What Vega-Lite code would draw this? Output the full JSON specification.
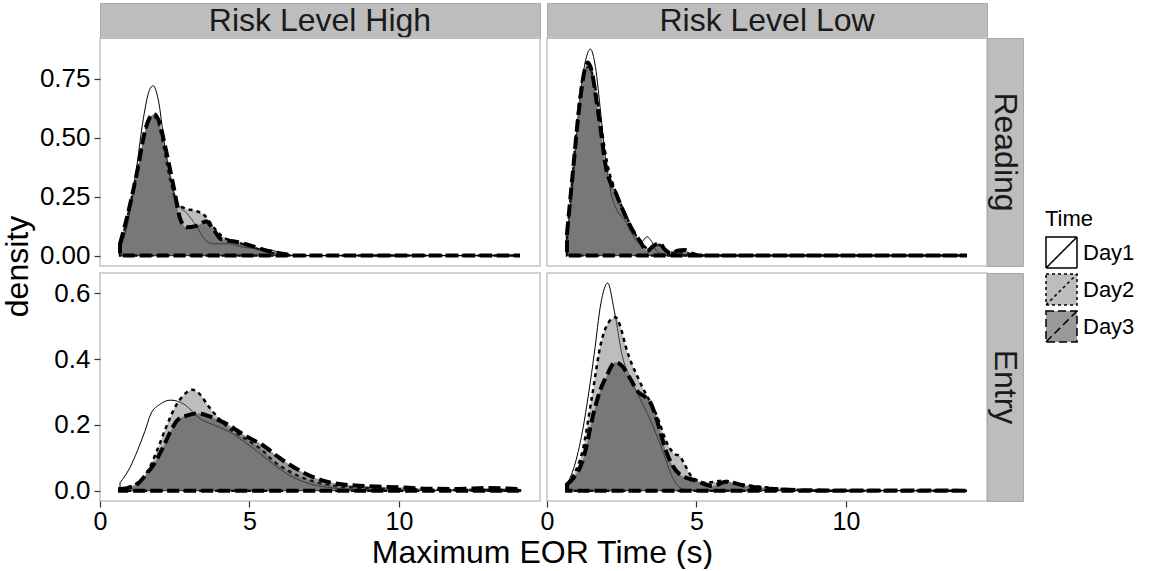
{
  "$schema": "https://vega.github.io/schema/vega-lite/v6.json",
  "background": "white",
  "padding": {"left": 0, "top": 0, "right": 5, "bottom": 0},
  "columns": 4,
  "spacing": 0,
  "align": "each",
  "bounds": "flush",
  "resolve": {"scale": {"x": "independent", "y": "independent", "fill": "shared"}, "legend": {"fill": "shared"}},
  "datasets": {
    "curves": [
      {"risk":"High","task":"Reading","day":"Day1","time":0.67,"density":0.03},
      {"risk":"High","task":"Reading","day":"Day1","time":0.9,"density":0.12},
      {"risk":"High","task":"Reading","day":"Day1","time":1.2,"density":0.35},
      {"risk":"High","task":"Reading","day":"Day1","time":1.45,"density":0.58},
      {"risk":"High","task":"Reading","day":"Day1","time":1.65,"density":0.70},
      {"risk":"High","task":"Reading","day":"Day1","time":1.78,"density":0.72},
      {"risk":"High","task":"Reading","day":"Day1","time":1.95,"density":0.66},
      {"risk":"High","task":"Reading","day":"Day1","time":2.15,"density":0.48},
      {"risk":"High","task":"Reading","day":"Day1","time":2.4,"density":0.30},
      {"risk":"High","task":"Reading","day":"Day1","time":2.65,"density":0.21},
      {"risk":"High","task":"Reading","day":"Day1","time":2.9,"density":0.18},
      {"risk":"High","task":"Reading","day":"Day1","time":3.2,"density":0.13},
      {"risk":"High","task":"Reading","day":"Day1","time":3.5,"density":0.07},
      {"risk":"High","task":"Reading","day":"Day1","time":3.8,"density":0.05},
      {"risk":"High","task":"Reading","day":"Day1","time":4.3,"density":0.05},
      {"risk":"High","task":"Reading","day":"Day1","time":4.8,"density":0.035},
      {"risk":"High","task":"Reading","day":"Day1","time":5.3,"density":0.03},
      {"risk":"High","task":"Reading","day":"Day1","time":5.7,"density":0.025},
      {"risk":"High","task":"Reading","day":"Day1","time":6.1,"density":0.008},
      {"risk":"High","task":"Reading","day":"Day1","time":6.6,"density":0},
      {"risk":"High","task":"Reading","day":"Day1","time":14.05,"density":0},

      {"risk":"High","task":"Reading","day":"Day2","time":0.67,"density":0.04},
      {"risk":"High","task":"Reading","day":"Day2","time":0.9,"density":0.15},
      {"risk":"High","task":"Reading","day":"Day2","time":1.2,"density":0.33},
      {"risk":"High","task":"Reading","day":"Day2","time":1.5,"density":0.52},
      {"risk":"High","task":"Reading","day":"Day2","time":1.75,"density":0.59},
      {"risk":"High","task":"Reading","day":"Day2","time":1.9,"density":0.58},
      {"risk":"High","task":"Reading","day":"Day2","time":2.1,"density":0.48},
      {"risk":"High","task":"Reading","day":"Day2","time":2.35,"density":0.32},
      {"risk":"High","task":"Reading","day":"Day2","time":2.6,"density":0.22},
      {"risk":"High","task":"Reading","day":"Day2","time":2.85,"density":0.2},
      {"risk":"High","task":"Reading","day":"Day2","time":3.2,"density":0.19},
      {"risk":"High","task":"Reading","day":"Day2","time":3.5,"density":0.17},
      {"risk":"High","task":"Reading","day":"Day2","time":3.8,"density":0.12},
      {"risk":"High","task":"Reading","day":"Day2","time":4.1,"density":0.08},
      {"risk":"High","task":"Reading","day":"Day2","time":4.5,"density":0.06},
      {"risk":"High","task":"Reading","day":"Day2","time":5.0,"density":0.04},
      {"risk":"High","task":"Reading","day":"Day2","time":5.5,"density":0.02},
      {"risk":"High","task":"Reading","day":"Day2","time":6.0,"density":0.007},
      {"risk":"High","task":"Reading","day":"Day2","time":6.5,"density":0},
      {"risk":"High","task":"Reading","day":"Day2","time":14.05,"density":0},

      {"risk":"High","task":"Reading","day":"Day3","time":0.67,"density":0.05},
      {"risk":"High","task":"Reading","day":"Day3","time":0.9,"density":0.16},
      {"risk":"High","task":"Reading","day":"Day3","time":1.25,"density":0.36},
      {"risk":"High","task":"Reading","day":"Day3","time":1.53,"density":0.54},
      {"risk":"High","task":"Reading","day":"Day3","time":1.8,"density":0.60},
      {"risk":"High","task":"Reading","day":"Day3","time":2.0,"density":0.56},
      {"risk":"High","task":"Reading","day":"Day3","time":2.15,"density":0.48},
      {"risk":"High","task":"Reading","day":"Day3","time":2.45,"density":0.30},
      {"risk":"High","task":"Reading","day":"Day3","time":2.7,"density":0.15},
      {"risk":"High","task":"Reading","day":"Day3","time":2.9,"density":0.12},
      {"risk":"High","task":"Reading","day":"Day3","time":3.2,"density":0.125},
      {"risk":"High","task":"Reading","day":"Day3","time":3.55,"density":0.145},
      {"risk":"High","task":"Reading","day":"Day3","time":3.8,"density":0.11},
      {"risk":"High","task":"Reading","day":"Day3","time":4.05,"density":0.07},
      {"risk":"High","task":"Reading","day":"Day3","time":4.5,"density":0.06},
      {"risk":"High","task":"Reading","day":"Day3","time":5.1,"density":0.04},
      {"risk":"High","task":"Reading","day":"Day3","time":5.6,"density":0.02},
      {"risk":"High","task":"Reading","day":"Day3","time":6.1,"density":0.008},
      {"risk":"High","task":"Reading","day":"Day3","time":6.6,"density":0},
      {"risk":"High","task":"Reading","day":"Day3","time":14.05,"density":0},

      {"risk":"Low","task":"Reading","day":"Day1","time":0.67,"density":0.08},
      {"risk":"Low","task":"Reading","day":"Day1","time":0.85,"density":0.30},
      {"risk":"Low","task":"Reading","day":"Day1","time":1.05,"density":0.60},
      {"risk":"Low","task":"Reading","day":"Day1","time":1.25,"density":0.80},
      {"risk":"Low","task":"Reading","day":"Day1","time":1.45,"density":0.875},
      {"risk":"Low","task":"Reading","day":"Day1","time":1.62,"density":0.80},
      {"risk":"Low","task":"Reading","day":"Day1","time":1.8,"density":0.60},
      {"risk":"Low","task":"Reading","day":"Day1","time":1.97,"density":0.40},
      {"risk":"Low","task":"Reading","day":"Day1","time":2.15,"density":0.26},
      {"risk":"Low","task":"Reading","day":"Day1","time":2.35,"density":0.19},
      {"risk":"Low","task":"Reading","day":"Day1","time":2.6,"density":0.15},
      {"risk":"Low","task":"Reading","day":"Day1","time":2.85,"density":0.09},
      {"risk":"Low","task":"Reading","day":"Day1","time":3.1,"density":0.05},
      {"risk":"Low","task":"Reading","day":"Day1","time":3.35,"density":0.08},
      {"risk":"Low","task":"Reading","day":"Day1","time":3.5,"density":0.06},
      {"risk":"Low","task":"Reading","day":"Day1","time":3.7,"density":0.015},
      {"risk":"Low","task":"Reading","day":"Day1","time":4.0,"density":0.005},
      {"risk":"Low","task":"Reading","day":"Day1","time":4.5,"density":0.003},
      {"risk":"Low","task":"Reading","day":"Day1","time":5.0,"density":0},
      {"risk":"Low","task":"Reading","day":"Day1","time":14.05,"density":0},

      {"risk":"Low","task":"Reading","day":"Day2","time":0.67,"density":0.09},
      {"risk":"Low","task":"Reading","day":"Day2","time":0.85,"density":0.32},
      {"risk":"Low","task":"Reading","day":"Day2","time":1.05,"density":0.62},
      {"risk":"Low","task":"Reading","day":"Day2","time":1.25,"density":0.78},
      {"risk":"Low","task":"Reading","day":"Day2","time":1.4,"density":0.80},
      {"risk":"Low","task":"Reading","day":"Day2","time":1.6,"density":0.72},
      {"risk":"Low","task":"Reading","day":"Day2","time":1.8,"density":0.56},
      {"risk":"Low","task":"Reading","day":"Day2","time":2.0,"density":0.40},
      {"risk":"Low","task":"Reading","day":"Day2","time":2.3,"density":0.27},
      {"risk":"Low","task":"Reading","day":"Day2","time":2.64,"density":0.17},
      {"risk":"Low","task":"Reading","day":"Day2","time":3.0,"density":0.08},
      {"risk":"Low","task":"Reading","day":"Day2","time":3.4,"density":0.03},
      {"risk":"Low","task":"Reading","day":"Day2","time":3.75,"density":0.045},
      {"risk":"Low","task":"Reading","day":"Day2","time":4.1,"density":0.012},
      {"risk":"Low","task":"Reading","day":"Day2","time":4.5,"density":0.015},
      {"risk":"Low","task":"Reading","day":"Day2","time":4.9,"density":0.003},
      {"risk":"Low","task":"Reading","day":"Day2","time":5.3,"density":0},
      {"risk":"Low","task":"Reading","day":"Day2","time":14.05,"density":0},

      {"risk":"Low","task":"Reading","day":"Day3","time":0.67,"density":0.094},
      {"risk":"Low","task":"Reading","day":"Day3","time":0.86,"density":0.347},
      {"risk":"Low","task":"Reading","day":"Day3","time":1.08,"density":0.63},
      {"risk":"Low","task":"Reading","day":"Day3","time":1.25,"density":0.78},
      {"risk":"Low","task":"Reading","day":"Day3","time":1.36,"density":0.818},
      {"risk":"Low","task":"Reading","day":"Day3","time":1.5,"density":0.78},
      {"risk":"Low","task":"Reading","day":"Day3","time":1.64,"density":0.67},
      {"risk":"Low","task":"Reading","day":"Day3","time":1.8,"density":0.53},
      {"risk":"Low","task":"Reading","day":"Day3","time":1.97,"density":0.375},
      {"risk":"Low","task":"Reading","day":"Day3","time":2.31,"density":0.263},
      {"risk":"Low","task":"Reading","day":"Day3","time":2.64,"density":0.164},
      {"risk":"Low","task":"Reading","day":"Day3","time":2.9,"density":0.1},
      {"risk":"Low","task":"Reading","day":"Day3","time":3.09,"density":0.066},
      {"risk":"Low","task":"Reading","day":"Day3","time":3.35,"density":0.02},
      {"risk":"Low","task":"Reading","day":"Day3","time":3.55,"density":0.04},
      {"risk":"Low","task":"Reading","day":"Day3","time":3.76,"density":0.052},
      {"risk":"Low","task":"Reading","day":"Day3","time":3.95,"density":0.025},
      {"risk":"Low","task":"Reading","day":"Day3","time":4.15,"density":0.01},
      {"risk":"Low","task":"Reading","day":"Day3","time":4.4,"density":0.022},
      {"risk":"Low","task":"Reading","day":"Day3","time":4.6,"density":0.024},
      {"risk":"Low","task":"Reading","day":"Day3","time":4.85,"density":0.008},
      {"risk":"Low","task":"Reading","day":"Day3","time":5.1,"density":0},
      {"risk":"Low","task":"Reading","day":"Day3","time":14.05,"density":0},

      {"risk":"High","task":"Entry","day":"Day1","time":0.67,"density":0.024},
      {"risk":"High","task":"Entry","day":"Day1","time":1.0,"density":0.07},
      {"risk":"High","task":"Entry","day":"Day1","time":1.25,"density":0.121},
      {"risk":"High","task":"Entry","day":"Day1","time":1.5,"density":0.18},
      {"risk":"High","task":"Entry","day":"Day1","time":1.7,"density":0.233},
      {"risk":"High","task":"Entry","day":"Day1","time":2.0,"density":0.262},
      {"risk":"High","task":"Entry","day":"Day1","time":2.37,"density":0.275},
      {"risk":"High","task":"Entry","day":"Day1","time":2.81,"density":0.263},
      {"risk":"High","task":"Entry","day":"Day1","time":3.37,"density":0.217},
      {"risk":"High","task":"Entry","day":"Day1","time":3.8,"density":0.2},
      {"risk":"High","task":"Entry","day":"Day1","time":4.26,"density":0.182},
      {"risk":"High","task":"Entry","day":"Day1","time":4.8,"density":0.15},
      {"risk":"High","task":"Entry","day":"Day1","time":5.38,"density":0.111},
      {"risk":"High","task":"Entry","day":"Day1","time":5.8,"density":0.08},
      {"risk":"High","task":"Entry","day":"Day1","time":6.27,"density":0.05},
      {"risk":"High","task":"Entry","day":"Day1","time":7.05,"density":0.02},
      {"risk":"High","task":"Entry","day":"Day1","time":7.8,"density":0.008},
      {"risk":"High","task":"Entry","day":"Day1","time":8.5,"density":0.003},
      {"risk":"High","task":"Entry","day":"Day1","time":9.5,"density":0.001},
      {"risk":"High","task":"Entry","day":"Day1","time":14.05,"density":0},

      {"risk":"High","task":"Entry","day":"Day2","time":0.67,"density":0.005},
      {"risk":"High","task":"Entry","day":"Day2","time":1.0,"density":0.012},
      {"risk":"High","task":"Entry","day":"Day2","time":1.25,"density":0.024},
      {"risk":"High","task":"Entry","day":"Day2","time":1.6,"density":0.06},
      {"risk":"High","task":"Entry","day":"Day2","time":1.9,"density":0.12},
      {"risk":"High","task":"Entry","day":"Day2","time":2.2,"density":0.19},
      {"risk":"High","task":"Entry","day":"Day2","time":2.55,"density":0.26},
      {"risk":"High","task":"Entry","day":"Day2","time":2.8,"density":0.29},
      {"risk":"High","task":"Entry","day":"Day2","time":3.09,"density":0.307},
      {"risk":"High","task":"Entry","day":"Day2","time":3.37,"density":0.29},
      {"risk":"High","task":"Entry","day":"Day2","time":3.6,"density":0.26},
      {"risk":"High","task":"Entry","day":"Day2","time":3.95,"density":0.222},
      {"risk":"High","task":"Entry","day":"Day2","time":4.3,"density":0.19},
      {"risk":"High","task":"Entry","day":"Day2","time":4.6,"density":0.172},
      {"risk":"High","task":"Entry","day":"Day2","time":5.0,"density":0.15},
      {"risk":"High","task":"Entry","day":"Day2","time":5.4,"density":0.125},
      {"risk":"High","task":"Entry","day":"Day2","time":5.8,"density":0.09},
      {"risk":"High","task":"Entry","day":"Day2","time":6.3,"density":0.06},
      {"risk":"High","task":"Entry","day":"Day2","time":6.9,"density":0.035},
      {"risk":"High","task":"Entry","day":"Day2","time":7.8,"density":0.015},
      {"risk":"High","task":"Entry","day":"Day2","time":8.8,"density":0.008},
      {"risk":"High","task":"Entry","day":"Day2","time":10.0,"density":0.004},
      {"risk":"High","task":"Entry","day":"Day2","time":12.0,"density":0.002},
      {"risk":"High","task":"Entry","day":"Day2","time":14.05,"density":0.001},

      {"risk":"High","task":"Entry","day":"Day3","time":0.67,"density":0.005},
      {"risk":"High","task":"Entry","day":"Day3","time":1.0,"density":0.01},
      {"risk":"High","task":"Entry","day":"Day3","time":1.25,"density":0.02},
      {"risk":"High","task":"Entry","day":"Day3","time":1.55,"density":0.05},
      {"risk":"High","task":"Entry","day":"Day3","time":1.8,"density":0.08},
      {"risk":"High","task":"Entry","day":"Day3","time":2.1,"density":0.13},
      {"risk":"High","task":"Entry","day":"Day3","time":2.37,"density":0.182},
      {"risk":"High","task":"Entry","day":"Day3","time":2.6,"density":0.215},
      {"risk":"High","task":"Entry","day":"Day3","time":2.9,"density":0.228},
      {"risk":"High","task":"Entry","day":"Day3","time":3.26,"density":0.235},
      {"risk":"High","task":"Entry","day":"Day3","time":3.6,"density":0.228},
      {"risk":"High","task":"Entry","day":"Day3","time":3.9,"density":0.217},
      {"risk":"High","task":"Entry","day":"Day3","time":4.3,"density":0.2},
      {"risk":"High","task":"Entry","day":"Day3","time":4.6,"density":0.182},
      {"risk":"High","task":"Entry","day":"Day3","time":5.0,"density":0.16},
      {"risk":"High","task":"Entry","day":"Day3","time":5.4,"density":0.141},
      {"risk":"High","task":"Entry","day":"Day3","time":6.0,"density":0.1},
      {"risk":"High","task":"Entry","day":"Day3","time":6.6,"density":0.065},
      {"risk":"High","task":"Entry","day":"Day3","time":7.3,"density":0.035},
      {"risk":"High","task":"Entry","day":"Day3","time":8.0,"density":0.02},
      {"risk":"High","task":"Entry","day":"Day3","time":8.9,"density":0.014},
      {"risk":"High","task":"Entry","day":"Day3","time":10.0,"density":0.01},
      {"risk":"High","task":"Entry","day":"Day3","time":11.0,"density":0.006},
      {"risk":"High","task":"Entry","day":"Day3","time":12.0,"density":0.005},
      {"risk":"High","task":"Entry","day":"Day3","time":13.0,"density":0.008},
      {"risk":"High","task":"Entry","day":"Day3","time":13.5,"density":0.007},
      {"risk":"High","task":"Entry","day":"Day3","time":14.05,"density":0.005},

      {"risk":"Low","task":"Entry","day":"Day1","time":0.67,"density":0.019},
      {"risk":"Low","task":"Entry","day":"Day1","time":0.9,"density":0.07},
      {"risk":"Low","task":"Entry","day":"Day1","time":1.19,"density":0.182},
      {"risk":"Low","task":"Entry","day":"Day1","time":1.4,"density":0.3},
      {"risk":"Low","task":"Entry","day":"Day1","time":1.58,"density":0.415},
      {"risk":"Low","task":"Entry","day":"Day1","time":1.8,"density":0.568},
      {"risk":"Low","task":"Entry","day":"Day1","time":2.03,"density":0.631},
      {"risk":"Low","task":"Entry","day":"Day1","time":2.25,"density":0.547},
      {"risk":"Low","task":"Entry","day":"Day1","time":2.53,"density":0.405},
      {"risk":"Low","task":"Entry","day":"Day1","time":2.75,"density":0.35},
      {"risk":"Low","task":"Entry","day":"Day1","time":2.98,"density":0.304},
      {"risk":"Low","task":"Entry","day":"Day1","time":3.42,"density":0.222},
      {"risk":"Low","task":"Entry","day":"Day1","time":3.87,"density":0.121},
      {"risk":"Low","task":"Entry","day":"Day1","time":4.2,"density":0.04},
      {"risk":"Low","task":"Entry","day":"Day1","time":4.54,"density":0.005},
      {"risk":"Low","task":"Entry","day":"Day1","time":5.0,"density":0.001},
      {"risk":"Low","task":"Entry","day":"Day1","time":14.05,"density":0},

      {"risk":"Low","task":"Entry","day":"Day2","time":0.67,"density":0.019},
      {"risk":"Low","task":"Entry","day":"Day2","time":0.9,"density":0.05},
      {"risk":"Low","task":"Entry","day":"Day2","time":1.19,"density":0.121},
      {"risk":"Low","task":"Entry","day":"Day2","time":1.5,"density":0.283},
      {"risk":"Low","task":"Entry","day":"Day2","time":1.8,"density":0.446},
      {"risk":"Low","task":"Entry","day":"Day2","time":2.05,"density":0.51},
      {"risk":"Low","task":"Entry","day":"Day2","time":2.29,"density":0.527},
      {"risk":"Low","task":"Entry","day":"Day2","time":2.45,"density":0.5},
      {"risk":"Low","task":"Entry","day":"Day2","time":2.64,"density":0.436},
      {"risk":"Low","task":"Entry","day":"Day2","time":3.09,"density":0.334},
      {"risk":"Low","task":"Entry","day":"Day2","time":3.65,"density":0.233},
      {"risk":"Low","task":"Entry","day":"Day2","time":4.09,"density":0.131},
      {"risk":"Low","task":"Entry","day":"Day2","time":4.3,"density":0.11},
      {"risk":"Low","task":"Entry","day":"Day2","time":4.43,"density":0.106},
      {"risk":"Low","task":"Entry","day":"Day2","time":4.6,"density":0.08},
      {"risk":"Low","task":"Entry","day":"Day2","time":4.87,"density":0.04},
      {"risk":"Low","task":"Entry","day":"Day2","time":5.32,"density":0.024},
      {"risk":"Low","task":"Entry","day":"Day2","time":5.88,"density":0.03},
      {"risk":"Low","task":"Entry","day":"Day2","time":6.44,"density":0.02},
      {"risk":"Low","task":"Entry","day":"Day2","time":7.55,"density":0.008},
      {"risk":"Low","task":"Entry","day":"Day2","time":8.5,"density":0.002},
      {"risk":"Low","task":"Entry","day":"Day2","time":9.5,"density":0},
      {"risk":"Low","task":"Entry","day":"Day2","time":14.05,"density":0},

      {"risk":"Low","task":"Entry","day":"Day3","time":0.67,"density":0.019},
      {"risk":"Low","task":"Entry","day":"Day3","time":0.9,"density":0.04},
      {"risk":"Low","task":"Entry","day":"Day3","time":1.19,"density":0.09},
      {"risk":"Low","task":"Entry","day":"Day3","time":1.58,"density":0.243},
      {"risk":"Low","task":"Entry","day":"Day3","time":1.8,"density":0.31},
      {"risk":"Low","task":"Entry","day":"Day3","time":1.97,"density":0.344},
      {"risk":"Low","task":"Entry","day":"Day3","time":2.29,"density":0.39},
      {"risk":"Low","task":"Entry","day":"Day3","time":2.5,"density":0.38},
      {"risk":"Low","task":"Entry","day":"Day3","time":2.76,"density":0.344},
      {"risk":"Low","task":"Entry","day":"Day3","time":3.05,"density":0.3},
      {"risk":"Low","task":"Entry","day":"Day3","time":3.31,"density":0.283},
      {"risk":"Low","task":"Entry","day":"Day3","time":3.5,"density":0.26},
      {"risk":"Low","task":"Entry","day":"Day3","time":3.65,"density":0.222},
      {"risk":"Low","task":"Entry","day":"Day3","time":3.98,"density":0.121},
      {"risk":"Low","task":"Entry","day":"Day3","time":4.43,"density":0.05},
      {"risk":"Low","task":"Entry","day":"Day3","time":4.99,"density":0.03},
      {"risk":"Low","task":"Entry","day":"Day3","time":5.54,"density":0.014},
      {"risk":"Low","task":"Entry","day":"Day3","time":5.99,"density":0.027},
      {"risk":"Low","task":"Entry","day":"Day3","time":6.66,"density":0.014},
      {"risk":"Low","task":"Entry","day":"Day3","time":7.78,"density":0.004},
      {"risk":"Low","task":"Entry","day":"Day3","time":8.8,"density":0.001},
      {"risk":"Low","task":"Entry","day":"Day3","time":14.05,"density":0}
    ]
  },
  "concat": [
    {"width": 440, "height": 35, "view": {"fill": "#bdbdbd", "stroke": "#a8a8a8"},
     "data": {"values": [{"label": "Risk Level High"}]},
     "mark": {"type": "text", "font": "Liberation Sans", "fontSize": 32, "color": "#1a1a1a"},
     "encoding": {"text": {"field": "label"}}},
    {"width": 7, "height": 7, "data": {"values": [{"label": ""}]}, "mark": {"type": "text"}, "encoding": {"text": {"field": "label"}}},
    {"width": 440, "height": 35, "view": {"fill": "#bdbdbd", "stroke": "#a8a8a8"},
     "data": {"values": [{"label": "Risk Level Low"}]},
     "mark": {"type": "text", "font": "Liberation Sans", "fontSize": 32, "color": "#1a1a1a"},
     "encoding": {"text": {"field": "label"}}},
    {"width": 7, "height": 7, "data": {"values": [{"label": ""}]}, "mark": {"type": "text"}, "encoding": {"text": {"field": "label"}}},

    {"width": 440, "height": 228, "view": {"stroke": "#c4c4c4", "strokeWidth": 1.5},
     "data": {"name": "curves"},
     "transform": [{"filter": "datum.risk === 'High' && datum.task === 'Reading'"}],
     "encoding": {
       "x": {"field": "time", "type": "quantitative", "scale": {"domain": [0, 14.72], "nice": false, "zero": false}, "axis": null},
       "y": {"field": "density", "type": "quantitative", "stack": null, "scale": {"domain": [-0.044, 0.922], "nice": false, "zero": false},
             "axis": {"values": [0, 0.25, 0.5, 0.75], "format": ".2f", "title": "density", "titleX": -66, "titleY": 228}},
       "fill": {"field": "day", "type": "nominal", "scale": {"domain": ["Day1", "Day2", "Day3"], "range": ["#ffffff", "#7b7b7b", "#333333"]},
                "legend": {"title": "Time", "orient": "none", "legendX": 945, "legendY": 206,
                           "encode": {"symbols": {"update": {"fillOpacity": {"value": 0.5}, "stroke": {"value": "black"}, "strokeWidth": {"value": 1.5},
                             "strokeDash": {"signal": "datum.value === 'Day2' ? [3,3] : datum.value === 'Day3' ? [8,4] : [1,0]"}}}}}}
     },
     "layer": [
       {"transform": [{"filter": "datum.day === 'Day1'"}], "mark": {"type": "area", "interpolate": "monotone", "fillOpacity": 0.5, "stroke": "black", "strokeWidth": 1}},
       {"transform": [{"filter": "datum.day === 'Day2'"}], "mark": {"type": "area", "interpolate": "monotone", "fillOpacity": 0.5, "stroke": "black", "strokeWidth": 2.5, "strokeDash": [4, 4]}},
       {"transform": [{"filter": "datum.day === 'Day3'"}], "mark": {"type": "area", "interpolate": "monotone", "fillOpacity": 0.5, "stroke": "black", "strokeWidth": 4, "strokeDash": [12, 5]}}
     ]},
    {"width": 7, "height": 7, "data": {"values": [{"label": ""}]}, "mark": {"type": "text"}, "encoding": {"text": {"field": "label"}}},
    {"width": 440, "height": 228, "view": {"stroke": "#c4c4c4", "strokeWidth": 1.5},
     "data": {"name": "curves"},
     "transform": [{"filter": "datum.risk === 'Low' && datum.task === 'Reading'"}],
     "encoding": {
       "x": {"field": "time", "type": "quantitative", "scale": {"domain": [0, 14.72], "nice": false, "zero": false}, "axis": null},
       "y": {"field": "density", "type": "quantitative", "stack": null, "scale": {"domain": [-0.044, 0.922], "nice": false, "zero": false}, "axis": null},
       "fill": {"field": "day", "type": "nominal", "scale": {"domain": ["Day1", "Day2", "Day3"], "range": ["#ffffff", "#7b7b7b", "#333333"]},
                "legend": {"title": "Time", "orient": "none", "legendX": 945, "legendY": 206,
                           "encode": {"symbols": {"update": {"fillOpacity": {"value": 0.5}, "stroke": {"value": "black"}, "strokeWidth": {"value": 1.5},
                             "strokeDash": {"signal": "datum.value === 'Day2' ? [3,3] : datum.value === 'Day3' ? [8,4] : [1,0]"}}}}}}
     },
     "layer": [
       {"transform": [{"filter": "datum.day === 'Day1'"}], "mark": {"type": "area", "interpolate": "monotone", "fillOpacity": 0.5, "stroke": "black", "strokeWidth": 1}},
       {"transform": [{"filter": "datum.day === 'Day2'"}], "mark": {"type": "area", "interpolate": "monotone", "fillOpacity": 0.5, "stroke": "black", "strokeWidth": 2.5, "strokeDash": [4, 4]}},
       {"transform": [{"filter": "datum.day === 'Day3'"}], "mark": {"type": "area", "interpolate": "monotone", "fillOpacity": 0.5, "stroke": "black", "strokeWidth": 4, "strokeDash": [12, 5]}}
     ]},
    {"width": 36, "height": 228, "view": {"fill": "#bdbdbd", "stroke": "#a8a8a8"},
     "data": {"values": [{"label": "Reading"}]},
     "mark": {"type": "text", "font": "Liberation Sans", "fontSize": 32, "color": "#1a1a1a", "angle": 90},
     "encoding": {"text": {"field": "label"}}},

    {"width": 7, "height": 7, "data": {"values": [{"label": ""}]}, "mark": {"type": "text"}, "encoding": {"text": {"field": "label"}}},
    {"width": 7, "height": 7, "data": {"values": [{"label": ""}]}, "mark": {"type": "text"}, "encoding": {"text": {"field": "label"}}},
    {"width": 7, "height": 7, "data": {"values": [{"label": ""}]}, "mark": {"type": "text"}, "encoding": {"text": {"field": "label"}}},
    {"width": 7, "height": 7, "data": {"values": [{"label": ""}]}, "mark": {"type": "text"}, "encoding": {"text": {"field": "label"}}},

    {"width": 440, "height": 228, "view": {"stroke": "#c4c4c4", "strokeWidth": 1.5},
     "data": {"name": "curves"},
     "transform": [{"filter": "datum.risk === 'High' && datum.task === 'Entry'"}],
     "encoding": {
       "x": {"field": "time", "type": "quantitative", "scale": {"domain": [0, 14.72], "nice": false, "zero": false},
             "axis": {"values": [0, 5, 10], "format": "d", "labelFlush": false, "labelFontSize": 25, "labelPadding": 2, "titlePadding": 3, "title": "Maximum EOR Time (s)", "titleX": 442}},
       "y": {"field": "density", "type": "quantitative", "stack": null, "scale": {"domain": [-0.0315, 0.6615], "nice": false, "zero": false},
             "axis": {"values": [0, 0.2, 0.4, 0.6], "format": ".1f", "title": null}},
       "fill": {"field": "day", "type": "nominal", "scale": {"domain": ["Day1", "Day2", "Day3"], "range": ["#ffffff", "#7b7b7b", "#333333"]},
                "legend": {"title": "Time", "orient": "none", "legendX": 945, "legendY": 206,
                           "encode": {"symbols": {"update": {"fillOpacity": {"value": 0.5}, "stroke": {"value": "black"}, "strokeWidth": {"value": 1.5},
                             "strokeDash": {"signal": "datum.value === 'Day2' ? [3,3] : datum.value === 'Day3' ? [8,4] : [1,0]"}}}}}}
     },
     "layer": [
       {"transform": [{"filter": "datum.day === 'Day1'"}], "mark": {"type": "area", "interpolate": "monotone", "fillOpacity": 0.5, "stroke": "black", "strokeWidth": 1}},
       {"transform": [{"filter": "datum.day === 'Day2'"}], "mark": {"type": "area", "interpolate": "monotone", "fillOpacity": 0.5, "stroke": "black", "strokeWidth": 2.5, "strokeDash": [4, 4]}},
       {"transform": [{"filter": "datum.day === 'Day3'"}], "mark": {"type": "area", "interpolate": "monotone", "fillOpacity": 0.5, "stroke": "black", "strokeWidth": 4, "strokeDash": [12, 5]}}
     ]},
    {"width": 7, "height": 7, "data": {"values": [{"label": ""}]}, "mark": {"type": "text"}, "encoding": {"text": {"field": "label"}}},
    {"width": 440, "height": 228, "view": {"stroke": "#c4c4c4", "strokeWidth": 1.5},
     "data": {"name": "curves"},
     "transform": [{"filter": "datum.risk === 'Low' && datum.task === 'Entry'"}],
     "encoding": {
       "x": {"field": "time", "type": "quantitative", "scale": {"domain": [0, 14.72], "nice": false, "zero": false},
             "axis": {"values": [0, 5, 10], "format": "d", "labelFlush": false, "labelFontSize": 25, "labelPadding": 2, "title": null}},
       "y": {"field": "density", "type": "quantitative", "stack": null, "scale": {"domain": [-0.0315, 0.6615], "nice": false, "zero": false}, "axis": null},
       "fill": {"field": "day", "type": "nominal", "scale": {"domain": ["Day1", "Day2", "Day3"], "range": ["#ffffff", "#7b7b7b", "#333333"]},
                "legend": {"title": "Time", "orient": "none", "legendX": 945, "legendY": 206,
                           "encode": {"symbols": {"update": {"fillOpacity": {"value": 0.5}, "stroke": {"value": "black"}, "strokeWidth": {"value": 1.5},
                             "strokeDash": {"signal": "datum.value === 'Day2' ? [3,3] : datum.value === 'Day3' ? [8,4] : [1,0]"}}}}}}
     },
     "layer": [
       {"transform": [{"filter": "datum.day === 'Day1'"}], "mark": {"type": "area", "interpolate": "monotone", "fillOpacity": 0.5, "stroke": "black", "strokeWidth": 1}},
       {"transform": [{"filter": "datum.day === 'Day2'"}], "mark": {"type": "area", "interpolate": "monotone", "fillOpacity": 0.5, "stroke": "black", "strokeWidth": 2.5, "strokeDash": [4, 4]}},
       {"transform": [{"filter": "datum.day === 'Day3'"}], "mark": {"type": "area", "interpolate": "monotone", "fillOpacity": 0.5, "stroke": "black", "strokeWidth": 4, "strokeDash": [12, 5]}}
     ]},
    {"width": 36, "height": 228, "view": {"fill": "#bdbdbd", "stroke": "#a8a8a8"},
     "data": {"values": [{"label": "Entry"}]},
     "mark": {"type": "text", "font": "Liberation Sans", "fontSize": 32, "color": "#1a1a1a", "angle": 90},
     "encoding": {"text": {"field": "label"}}}
  ],
  "config": {
    "font": "Liberation Sans",
    "view": {"stroke": null},
    "axis": {
      "domain": false, "grid": false, "ticks": true, "tickColor": "#333333", "tickSize": 6, "tickWidth": 1.2,
      "labelFont": "Liberation Sans", "labelFontSize": 26, "labelColor": "#000000", "labelPadding": 4,
      "titleFont": "Liberation Sans", "titleFontSize": 32, "titleFontWeight": "normal", "titleColor": "#000000", "titlePadding": 0
    },
    "legend": {
      "symbolType": "M-1,-1H1V1H-1ZM-1,1L1,-1", "symbolSize": 961, "symbolStrokeColor": "black", "symbolStrokeWidth": 1.5,
      "rowPadding": 0, "padding": 0, "labelFont": "Liberation Sans", "labelFontSize": 22, "labelColor": "#000000", "labelOffset": 5,
      "titleFont": "Liberation Sans", "titleFontSize": 22, "titleFontWeight": "normal", "titleColor": "#000000", "titlePadding": 5
    }
  }
}
